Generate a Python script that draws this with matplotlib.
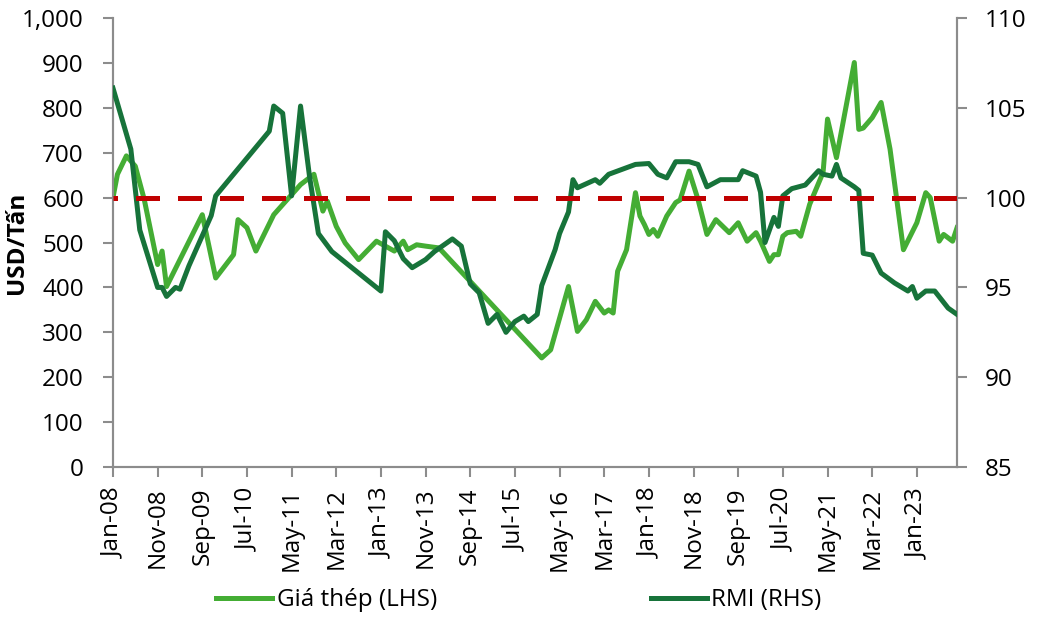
import matplotlib
matplotlib.use("Agg")
import matplotlib.pyplot as plt

# month offsets from Jan-2008
steel_month = [0, 1, 3, 5, 7, 10, 11, 12, 20, 23, 27, 28, 30, 32, 36, 42, 45, 47, 48, 50,
               52, 55, 59, 63, 65, 66, 68, 70, 73, 96, 98, 102, 104, 106, 108, 110, 111, 112,
               113, 115, 117, 118, 119, 120, 121, 122, 124, 126, 127, 129, 131, 133, 135, 138,
               140, 142, 144, 145, 147, 148, 149, 150, 151, 153, 154, 156, 159, 160, 162, 166,
               167, 168, 170, 172, 174, 177, 180, 182, 183, 185, 186, 188, 189]
steel_price = [600, 652, 693, 670, 596, 451, 481, 402, 562, 421, 473, 551, 533, 481, 562, 629,
               652, 570, 592, 536, 499, 462, 503, 481, 503, 484, 495, 492, 488, 243, 261, 402,
               302, 328, 369, 343, 350, 343, 436, 484, 611, 559, 540, 518, 529, 514, 559, 589,
               595, 659, 596, 518, 551, 522, 544, 503, 522, 503, 458, 473, 473, 514, 522, 525,
               514, 585, 656, 775, 689, 901, 752, 755, 778, 812, 708, 484, 544, 611, 600, 503,
               518, 503, 533]

rmi_month = [0, 4, 6, 10, 11, 12, 14, 15, 17, 22, 23, 35, 36, 38, 40, 42, 44, 46, 49, 60,
             61, 63, 65, 67, 70, 72, 76, 78, 80, 82, 84, 86, 88, 90, 92, 93, 95, 96, 99, 100,
             102, 103, 104, 108, 109, 111, 117, 120, 122, 124, 126, 129, 131, 133, 136, 140,
             141, 144, 145, 146, 148, 149, 150, 152, 155, 158, 159, 161, 162, 163, 166, 167,
             168, 170, 172, 175, 178, 179, 180, 182, 184, 187, 189]
rmi_value = [106.1, 102.7, 98.2, 95.0, 95.0, 94.5, 95.0, 94.9, 96.2, 99.0, 100.1, 103.7, 105.1,
             104.7, 100.1, 105.1, 101.2, 98.0, 97.0, 94.8, 98.1, 97.6, 96.6, 96.1, 96.55, 97.0,
             97.7, 97.3, 95.2, 94.7, 93.0, 93.5, 92.5, 93.1, 93.4, 93.1, 93.5, 95.1, 97.1, 98.0,
             99.2, 101.0, 100.55, 101.0, 100.8, 101.3, 101.85, 101.9, 101.3, 101.1, 102.0, 102.0,
             101.85, 100.6, 101.0, 101.0, 101.5, 101.2, 100.3, 97.5, 98.9, 98.4, 100.1, 100.5,
             100.7, 101.5, 101.3, 101.2, 101.85, 101.1, 100.6, 100.4, 96.9, 96.8, 95.8, 95.25,
             94.8, 95.05, 94.4, 94.8, 94.8, 93.85, 93.5]

threshold = 100
tick_months = list(range(0, 181, 10))
month_names = ["Jan", "Feb", "Mar", "Apr", "May", "Jun", "Jul", "Aug", "Sep", "Oct", "Nov", "Dec"]
tick_labels = [f"{month_names[m % 12]}-{(8 + m // 12):02d}" for m in tick_months]

LIGHT = "#44ad34"
DARK = "#17733a"
RED = "#c00000"
GREY = "#8c8c8c"

plt.rcParams['font.family'] = ['Open Sans', 'DejaVu Sans']
plt.rcParams['font.size'] = 17.5

fig = plt.figure(figsize=(10.48, 6.18), dpi=100)
ax = fig.add_axes([0.1078, 0.2443, 0.8054, 0.7265])
ax2 = ax.twinx()

l1, = ax.plot(steel_month, steel_price, color=LIGHT, lw=3.6, solid_joinstyle='round',
              label="Giá thép (LHS)", zorder=3)
l2, = ax2.plot(rmi_month, rmi_value, color=DARK, lw=3.6, solid_joinstyle='round',
               label="RMI (RHS)", zorder=3)
# red threshold line, dash pattern starts with a gap like the original
ax2.axhline(threshold, color=RED, lw=3.6, linestyle=(3.9, (4.8, 3.6)), zorder=4)

ax.set_xlim(0, 189)
ax.set_ylim(0, 1000)
ax.set_yticks(range(0, 1001, 100))
ax.set_yticklabels([f"{v:,}" for v in range(0, 1001, 100)])
ax2.set_ylim(85, 110)
ax2.set_yticks(range(85, 111, 5))

ax.set_xticks(tick_months)
ax.set_xticklabels(tick_labels, rotation=90)

for a in (ax, ax2):
    for s in a.spines.values():
        s.set_color(GREY)
        s.set_linewidth(1.5)
    a.spines['top'].set_visible(False)
ax.tick_params(axis='y', length=7, width=1.5, color=GREY, pad=14)
ax.tick_params(axis='x', length=7, width=1.5, color=GREY, pad=8)
ax2.tick_params(axis='y', length=7, width=1.5, color=GREY, pad=13)

ax.set_ylabel("USD/Tấn", fontweight='bold')
ax.yaxis.set_label_coords(-0.10, 0.5)

fig.legend(handles=[l1, l2], loc='lower center', bbox_to_anchor=(0.495, -0.026), ncol=2,
           frameon=False, handlelength=2.3, handletextpad=0.2, columnspacing=8.8)

fig.savefig("out.png", dpi=100)
